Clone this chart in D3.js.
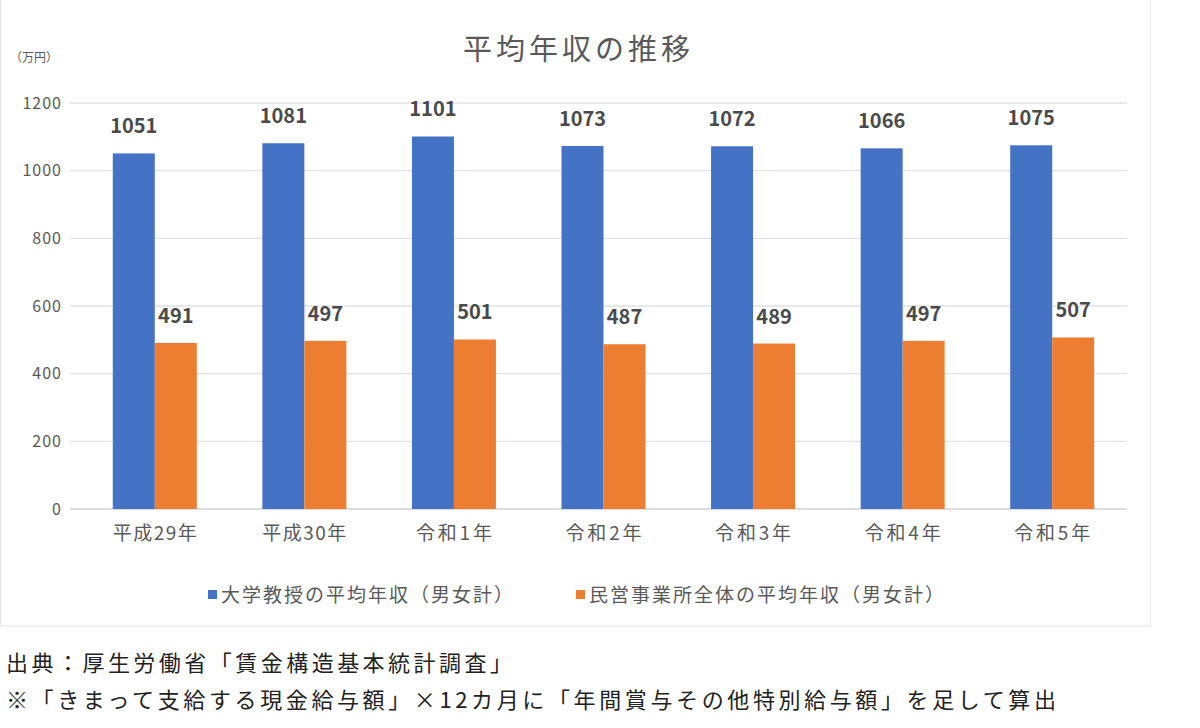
<!DOCTYPE html>
<html>
<head>
<meta charset="utf-8">
<script src="https://cdn.jsdelivr.net/npm/d3@7"></script>
<style>
  body { margin: 0; background: #fff; }
  text { font-family: "Noto Sans CJK JP", "Noto Sans", sans-serif; }
</style>
</head>
<body>
<svg id="chart" width="1200" height="728"></svg>
<script>
// data
var categories = ["平成29年", "平成30年", "令和1年", "令和2年", "令和3年", "令和4年", "令和5年"];
var professorPay = [1051, 1081, 1101, 1073, 1072, 1066, 1075];
var privatePay = [491, 497, 501, 487, 489, 497, 507];
var seriesNames = ["大学教授の平均年収（男女計）", "民営事業所全体の平均年収（男女計）"];
var yTicks = [0, 200, 400, 600, 800, 1000, 1200];
var colors = ["#4472C4", "#ED7D31"];

var svg = d3.select("#chart");

// outer chart box
svg.append("rect")
    .attr("x", 0.5).attr("y", -2)
    .attr("width", 1150).attr("height", 628)
    .attr("fill", "#fff").attr("stroke", "#e3e3e3");

var x = d3.scaleBand().domain(categories).range([80, 1127]);
var y = d3.scaleLinear().domain([0, 1200]).range([509, 103]);
var barW = 42;

// gridlines
svg.append("g").selectAll("line").data(yTicks).join("line")
    .attr("x1", 70).attr("x2", 1127)
    .attr("y1", function (d) { return y(d); })
    .attr("y2", function (d) { return y(d); })
    .attr("stroke", function (d) { return d === 0 ? "#d0d0d0" : "#e2e2e2"; })
    .attr("stroke-width", 1.3);

// y axis labels
var yAxis = d3.axisLeft(y).tickValues(yTicks).tickFormat(d3.format("d")).tickSize(0).tickPadding(0);
var yg = svg.append("g").attr("transform", "translate(62,0)").call(yAxis);
yg.select(".domain").remove();
yg.selectAll("text").attr("font-size", 16).attr("fill", "#595959")
    .attr("letter-spacing", 1)
    .attr("font-family", "Liberation Sans, Arial, sans-serif");

// x axis labels
var xAxis = d3.axisBottom(x).tickSize(0).tickPadding(0);
var xg = svg.append("g").attr("transform", "translate(0,526)").call(xAxis);
xg.select(".domain").remove();
xg.selectAll("text").attr("font-size", 19).attr("fill", "#595959")
    .attr("textLength", function (d) { return d.indexOf("平成") === 0 ? 84 : 76; })
    .attr("lengthAdjust", "spacing");

// bars
var series = [professorPay, privatePay];
series.forEach(function (vals, si) {
    var g = svg.append("g");
    g.selectAll("rect").data(vals).join("rect")
        .attr("x", function (d, i) { return x(categories[i]) + x.bandwidth() / 2 - barW + si * barW; })
        .attr("y", function (d) { return y(d); })
        .attr("width", barW)
        .attr("height", function (d) { return y(0) - y(d); })
        .attr("fill", colors[si]);
    g.selectAll("text").data(vals).join("text")
        .attr("x", function (d, i) { return x(categories[i]) + x.bandwidth() / 2 - barW / 2 + si * barW; })
        .attr("y", function (d) { return y(d) - 20; })
        .attr("text-anchor", "middle")
        .attr("font-size", 20)
        .attr("font-weight", "bold")
        .attr("fill", "#4a4a4a")
        .attr("font-family", "'DejaVu Sans Mono', monospace")
        .text(function (d) { return d; });
});

// title and unit
svg.append("text").attr("x", 463).attr("y", 60)
    .attr("font-size", 29).attr("fill", "#595959")
    .attr("textLength", 227).attr("lengthAdjust", "spacing")
    .text("平均年収の推移");
svg.append("text").attr("x", 10).attr("y", 62)
    .attr("font-size", 12).attr("fill", "#595959").text("（万円）");

// legend
var legendX = [208, 576];
var legendLen = [292, 355];
seriesNames.forEach(function (name, i) {
    svg.append("rect").attr("x", legendX[i]).attr("y", 590).attr("width", 9).attr("height", 9)
        .attr("fill", colors[i]);
    svg.append("text").attr("x", legendX[i] + 13).attr("y", 602)
        .attr("font-size", 19).attr("fill", "#595959")
        .attr("textLength", legendLen[i]).attr("lengthAdjust", "spacing")
        .text(name);
});

// footnotes
svg.append("text").attr("x", 6).attr("y", 671).attr("font-size", 22).attr("fill", "#222")
    .attr("textLength", 506).attr("lengthAdjust", "spacing")
    .text("出典：厚生労働省「賃金構造基本統計調査」");
svg.append("text").attr("x", 6).attr("y", 708).attr("font-size", 22).attr("fill", "#222")
    .attr("textLength", 1050).attr("lengthAdjust", "spacing")
    .text("※「きまって支給する現金給与額」×12カ月に「年間賞与その他特別給与額」を足して算出");
</script>
</body>
</html>
